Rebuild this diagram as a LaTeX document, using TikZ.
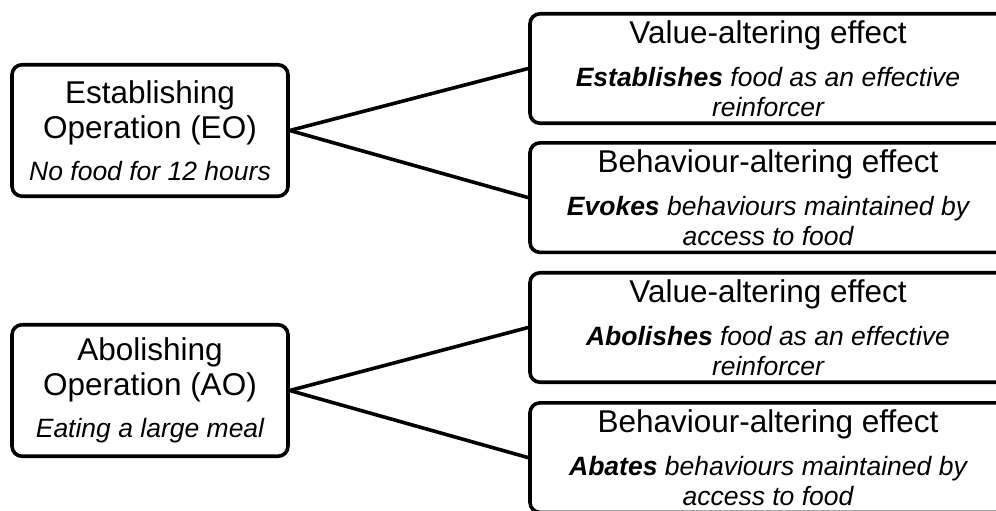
\documentclass[tikz,border=0pt]{standalone}
\usepackage{fontspec}
\setmainfont{Liberation Sans}
\usetikzlibrary{positioning}
\definecolor{ink}{HTML}{000000}
\newcommand{\headfont}{\fontsize{31.5}{35}\selectfont}
\newcommand{\notefont}{\fontsize{26.5}{26}\selectfont\itshape}
\newcommand{\keyword}[1]{\textbf{#1}}
\tikzset{
  opbox/.style={draw=ink,line width=3.6pt,rounded corners=10pt,align=center,
                minimum width=276pt,minimum height=131.5pt,inner sep=0pt,
                font=\headfont},
  effectbox/.style={draw=ink,line width=3.6pt,rounded corners=10pt,align=center,
                    minimum width=476pt,minimum height=109.5pt,inner sep=0pt,
                    font=\headfont},
  link/.style={line width=3.6pt,draw=ink}
}

\begin{document}
\begin{tikzpicture}[x=1pt,y=-1pt]
  \useasboundingbox (0,0) rectangle (996,511);
  \clip (0,0) rectangle (996,511);
  % establishing operation
  \node[opbox] (eo) at (150,130.5)
    {Establishing\\Operation (EO)\\[7pt]
     \notefont No food for 12 hours};
  \node[effectbox] (eovalue) at (768,68.5)
    {Value-altering effect\\[8pt]
     \notefont\keyword{Establishes} food as an effective\\[-5pt]
     \notefont reinforcer};
  \node[effectbox,below=16pt of eovalue] (eobehav)
    {Behaviour-altering effect\\[8pt]
     \notefont\keyword{Evokes} behaviours maintained by\\[-5pt]
     \notefont access to food};
  \draw[link] (eo.east)--(eovalue.west);
  \draw[link] (eo.east)--(eobehav.west);

  % abolishing operation
  \node[opbox] (ao) at (150,390.5)
    {Abolishing\\Operation (AO)\\[7pt]
     \notefont Eating a large meal};
  \node[effectbox] (aovalue) at (768,327.5)
    {Value-altering effect\\[8pt]
     \notefont\keyword{Abolishes} food as an effective\\[-5pt]
     \notefont reinforcer};
  \node[effectbox,below=17pt of aovalue] (aobehav)
    {Behaviour-altering effect\\[8pt]
     \notefont\keyword{Abates} behaviours maintained by\\[-5pt]
     \notefont access to food};
  \draw[link] (ao.east)--(aovalue.west);
  \draw[link] (ao.east)--(aobehav.west);
\end{tikzpicture}
\end{document}
